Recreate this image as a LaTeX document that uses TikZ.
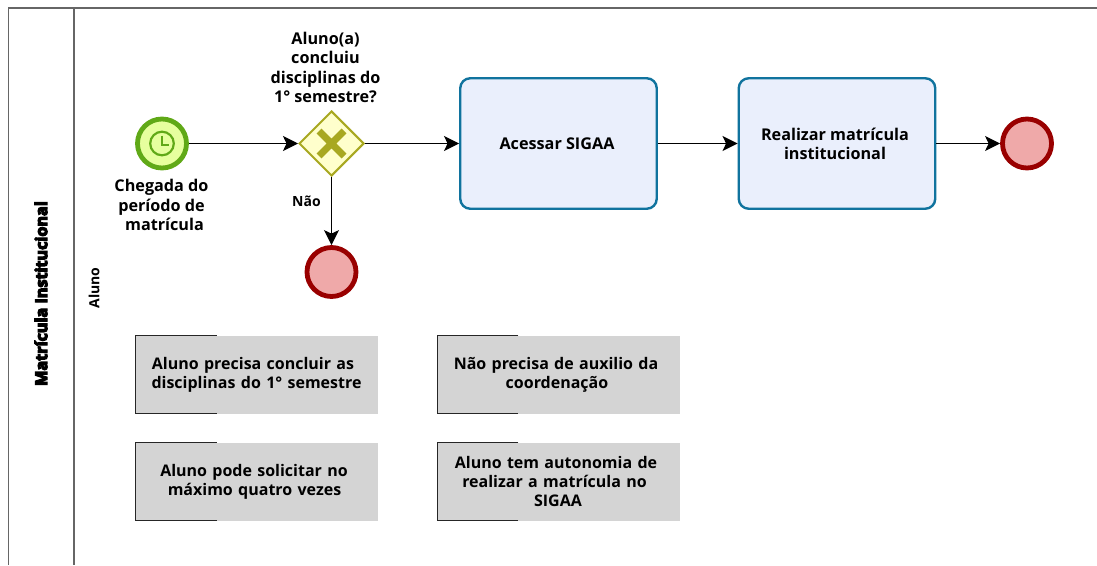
\documentclass[tikz,border=0pt]{standalone}
\usepackage{fontspec}
\setmainfont{Open Sans}
\usetikzlibrary{arrows.meta,shapes.geometric}
\definecolor{poolline}{HTML}{666666}
\definecolor{startline}{HTML}{60A917}
\definecolor{startfill}{HTML}{E6FF9E}
\definecolor{gwline}{HTML}{A8A821}
\definecolor{gwfill}{HTML}{FFFFCC}
\definecolor{endline}{HTML}{990000}
\definecolor{endfill}{HTML}{EFA9A9}
\definecolor{taskline}{HTML}{10739E}
\definecolor{taskfill}{HTML}{EAEFFC}
\definecolor{notefill}{HTML}{D4D4D4}
\newcommand{\strokedtext}[1]{\special{pdf:code q 2 Tr 1.2 w}#1\special{pdf:code Q}}
\newcommand{\lineshift}[1]{\hspace*{#1pt}}
\tikzset{
  x=1pt,y=-1pt,
  label text/.style={font=\bfseries\fontsize{16.2}{19.3}\selectfont,align=center,text=black,inner sep=0pt},
  small text/.style={font=\bfseries\fontsize{14}{17}\selectfont,text=black,inner sep=0pt},
  endevent/.style={circle,draw=endline,fill=endfill,line width=4.8pt,minimum size=49pt,inner sep=0pt,outer sep=2.4pt},
  startevent/.style={circle,draw=startline,fill=startfill,line width=4.8pt,minimum size=49pt,inner sep=0pt,outer sep=2.4pt},
  gateway/.style={diamond,aspect=1,draw=gwline,fill=gwfill,line width=2pt,minimum size=65pt,inner sep=0pt},
  taskbox/.style={draw=taskline,fill=taskfill,line width=2.4pt,rounded corners=10pt,minimum width=196.5pt,minimum height=130.5pt,label text},
  notebox/.style={fill=notefill,minimum width=242pt,minimum height=78pt,text width=236pt,align=center,text=black,inner sep=0pt,font=\bfseries\fontsize{16}{19.3}\selectfont},
  flow/.style={draw=black,line width=1.5pt,-{Stealth[length=15pt,width=15pt,inset=3.5pt]}},
  notemark/.style={draw=black!85,line width=1.3pt},
  pool/.style={draw=poolline,line width=1.4pt}
}
\begin{document}
\begin{tikzpicture}
\useasboundingbox (0,0) rectangle (1097,565);
\fill[white] (0,0) rectangle (1097,565);
\draw[pool] (8.5,565) -- (8.5,8) -- (1097,8);
\draw[pool] (74,8) -- (74,565);
\node[rotate=90,font=\bfseries\fontsize{16.2}{19}\selectfont,inner sep=0pt] (pooltitle) at (41,293.5) {\strokedtext{Matrícula Institucional}};
\node[rotate=90,small text] (lane) at (94,288) {Aluno};

\node[startevent] (start) at (162,143.5) {};
\draw[startline,line width=2.2pt,fill=none] (start.center) circle (11.8);
\draw[startline,line width=2pt] (162,135.5) -- (162,145) -- (169,145);
\node[label text] (startlabel) at (161.5,205) {Chegada do\\período de\\\lineshift{6}matrícula};

\node[gateway] (gw) at (331.5,143.5) {};
\draw[gwline,line width=6.8pt] (319,131) -- (344,156) (344,131) -- (319,156);
\node[label text] (gwlabel) at (325.5,67.5) {Aluno(a)\\concluiu\\disciplinas do\\1° semestre?};

\node[endevent] (endno) at (331.5,272) {};
\node[taskbox] (sigaa) at (558.5,143.5) {\lineshift{-3}Acessar SIGAA};
\node[taskbox] (matricula) at (837,143.5) {\lineshift{-4}Realizar matrícula\\[-0.5pt]\lineshift{-4}institucional};
\node[endevent] (endmain) at (1027,143.5) {};

\draw[flow] (start) -- (gw);
\draw[flow] (gw) -- (sigaa);
\draw[flow] (sigaa) -- (matricula);
\draw[flow] (matricula) -- (endmain);
\draw[flow] (gw) -- node[pos=0.355,left=10pt,small text] (nao) {Não} (endno);

\node[notebox] (n1) at (257,374.5) {\lineshift{-8}Aluno precisa concluir as\\\lineshift{-1}disciplinas do 1° semestre};
\node[notebox] (n2) at (558.5,374.5) {\lineshift{-5}Não precisa de auxilio da\\\lineshift{-3}coordenação};
\node[notebox] (n3) at (257,481.5) {\lineshift{-6}Aluno pode solicitar no\\\lineshift{-5}máximo quatro vezes};
\node[notebox] (n4) at (558.5,481.5) {\lineshift{-5}Aluno tem autonomia de\\\lineshift{-8}realizar a matrícula no\\\lineshift{-1}SIGAA};
\foreach \n in {n1,n2,n3,n4}{
  \draw[notemark] ([xshift=81pt]\n.north west) -- (\n.north west) -- (\n.south west) -- ([xshift=81pt]\n.south west);
}
\end{tikzpicture}
\end{document}
